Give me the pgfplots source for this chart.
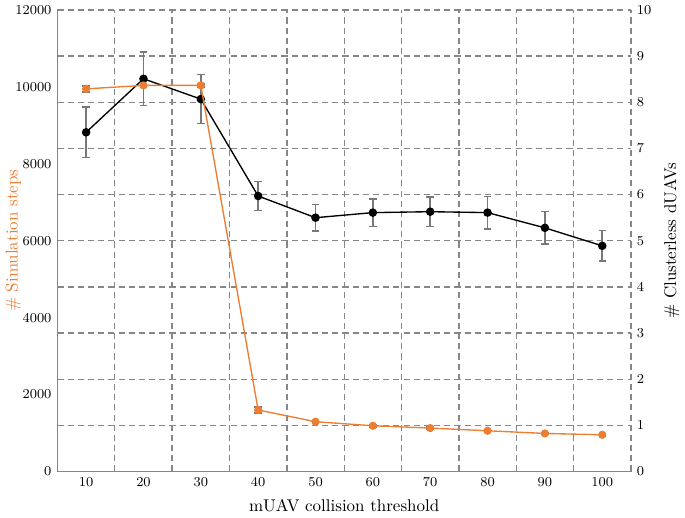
\documentclass[border=0pt]{standalone}
\usepackage{pgfplots}
\pgfplotsset{compat=1.18}
\definecolor{exorange}{RGB}{237,125,49}
\definecolor{gridgray}{RGB}{135,135,135}
\definecolor{errgray}{RGB}{120,120,120}
\pgfplotstableread{
x y e
1 7.35 0.55
2 8.51 0.58
3 8.07 0.53
4 5.97 0.31
5 5.50 0.29
6 5.61 0.30
7 5.63 0.32
8 5.61 0.35
9 5.28 0.35
10 4.89 0.33
}\clusterless
\pgfplotstableread{
x y e
1 9950 80
2 10040 40
3 10040 40
4 1600 80
5 1295 30
6 1190 30
7 1130 30
8 1060 30
9 990 30
10 955 30
}\steps
\begin{document}
\begin{tikzpicture}
\pgfplotsset{
  common/.style={
    set layers=standard,
    scale only axis, width=338pt, height=272pt,
    xmin=0.5, xmax=10.5,
    major tick length=0pt, minor tick length=0pt,
    tick label style={font=\fontsize{8}{9.5}\selectfont},
    label style={font=\normalsize},
  }
}
\begin{axis}[common,
  ymin=0, ymax=10, ytick={0,1,...,10},
  xtick={1,...,10}, xticklabels={10,20,30,40,50,60,70,80,90,100},
  minor xtick={1.5,2.5,...,10.5},
  axis line style={draw=none},
  yticklabel pos=right,
  ymajorgrids, xminorgrids,
  grid style={gridgray, line width=0.8pt, dash pattern=on 3.6pt off 2.4pt},
  minor grid style={gridgray, line width=0.8pt, dash pattern=on 3.6pt off 2.4pt},
  xlabel={mUAV collision threshold},
  xlabel style={at={(axis description cs:0.5,-0.074)}, anchor=center},
  ylabel={\# Clusterless dUAVs},
  ylabel style={at={(axis description cs:1.071,0.5)}, anchor=center, rotate=0},
]
\addplot[black, line width=0.8pt, mark=*, mark size=2.1pt,
  error bars/.cd, y dir=both, y explicit,
  error bar style={errgray, line width=0.9pt},
  error mark options={rotate=90, mark size=2.2pt, line width=0.9pt, errgray}]
  table[x=x, y=y, y error=e] {\clusterless};
\end{axis}
\begin{axis}[common,
  ymin=0, ymax=12000, ytick={0,2000,...,12000},
  xtick=\empty,
  axis x line*=bottom, axis y line*=left,
  axis line style={gridgray, line width=0.8pt, -},
  scaled y ticks=false,
  yticklabel style={/pgf/number format/.cd, fixed, set thousands separator={}},
  ylabel={\# Simulation steps},
  ylabel style={exorange, at={(axis description cs:-0.077,0.5)}, anchor=center},
]
\addplot[exorange, line width=0.8pt, mark=*, mark size=2pt,
  error bars/.cd, y dir=both, y explicit,
  error bar style={errgray, line width=0.9pt},
  error mark options={rotate=90, mark size=2.2pt, line width=0.9pt, errgray}]
  table[x=x, y=y, y error=e] {\steps};
\end{axis}
\end{tikzpicture}
\end{document}
